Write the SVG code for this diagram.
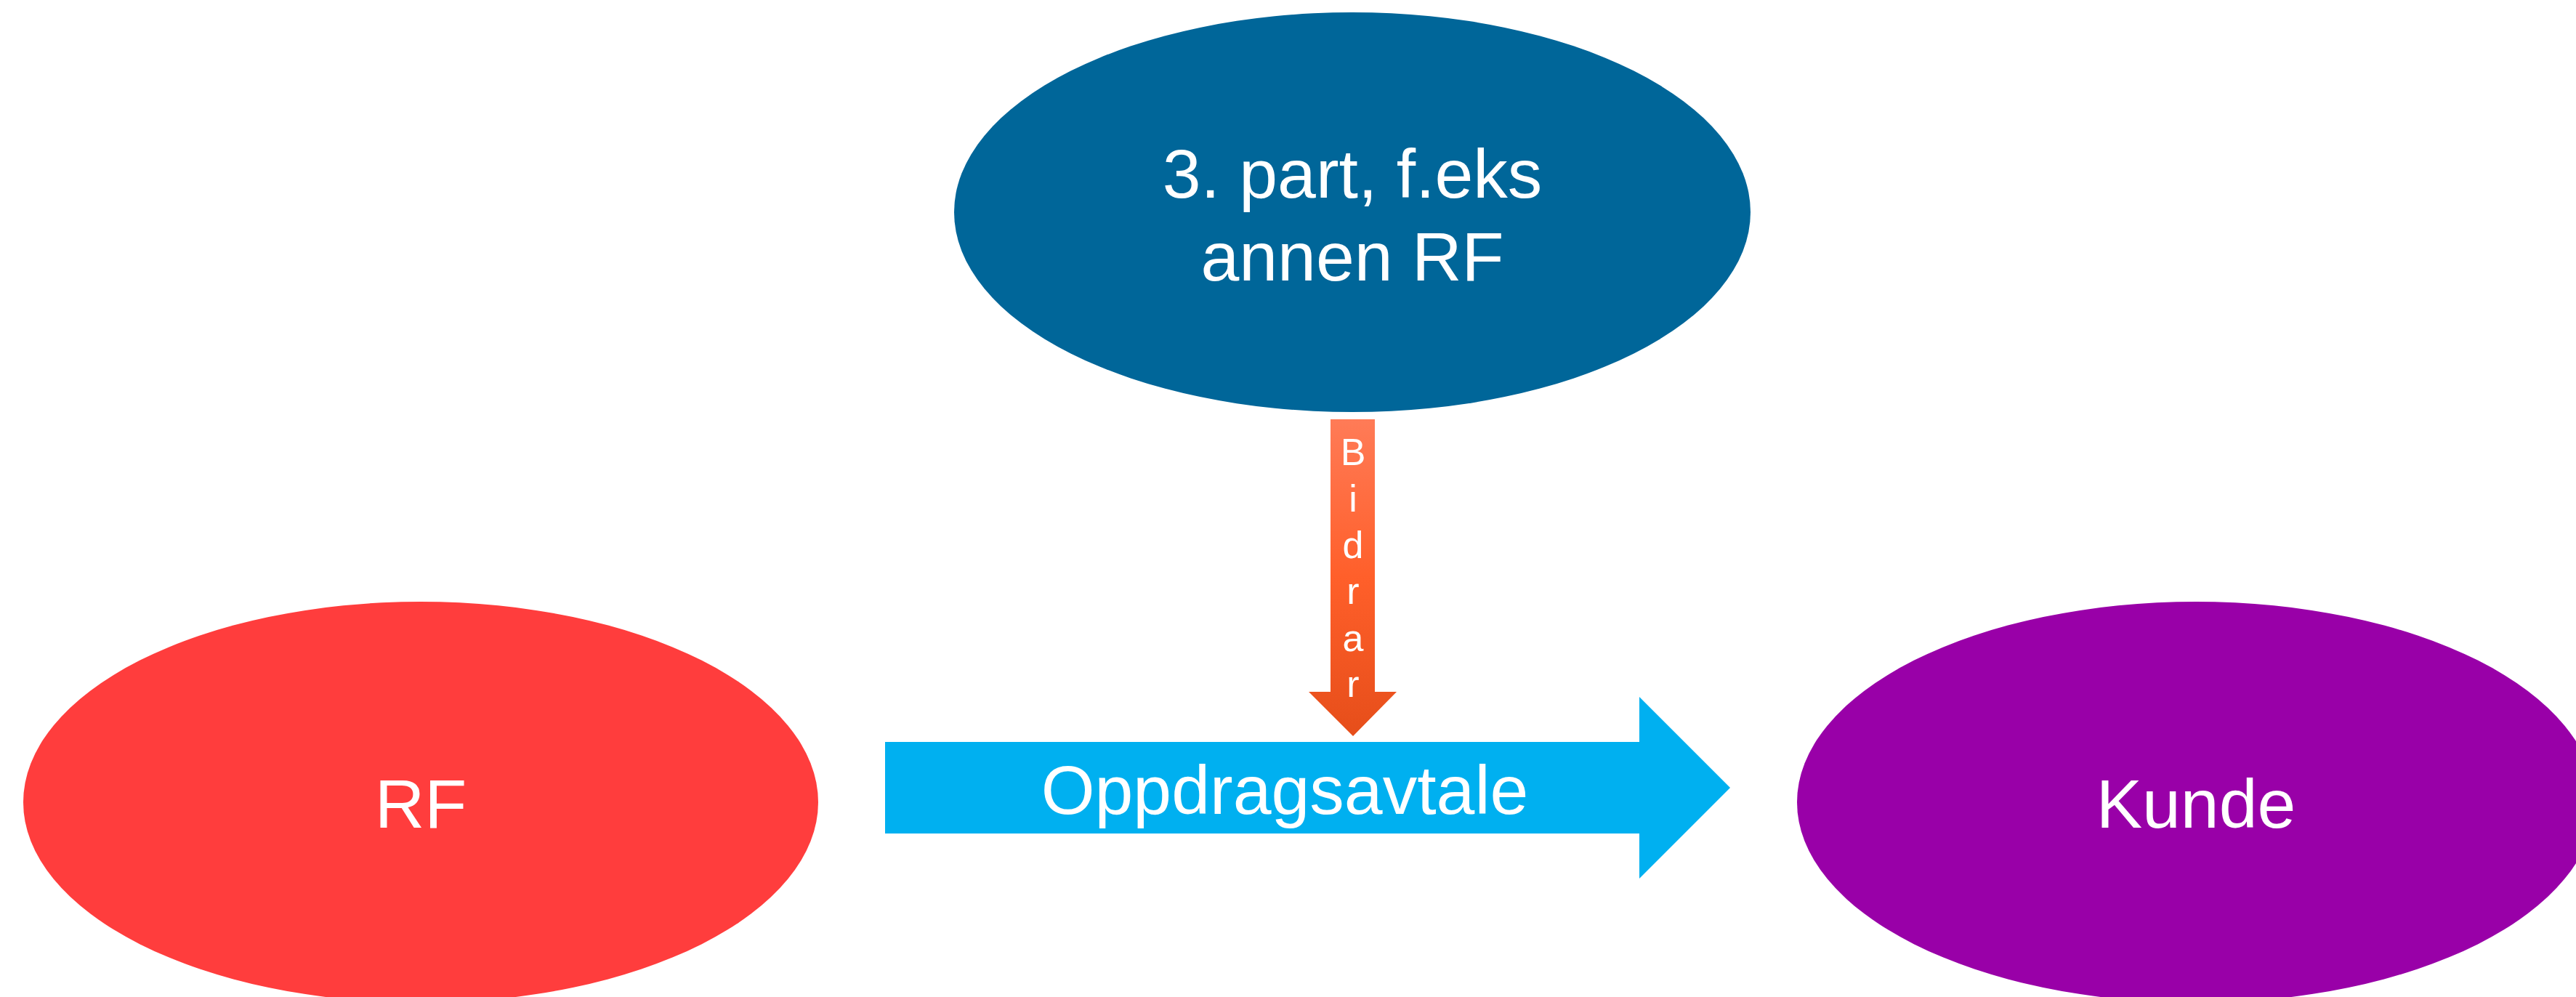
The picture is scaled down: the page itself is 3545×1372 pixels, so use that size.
<svg xmlns="http://www.w3.org/2000/svg" width="3545" height="1372" viewBox="0 0 3545 1372">
<style>
.lbl{font-family:"Liberation Sans",Arial,sans-serif;fill:#FFFFFF;text-anchor:middle}
.big{font-size:95px}
.small{font-size:52px}
</style>
<defs>
<linearGradient id="orange" x1="0" y1="0" x2="0" y2="1">
<stop offset="0" stop-color="#FF7B57"/>
<stop offset="0.5" stop-color="#FF5F2A"/>
<stop offset="1" stop-color="#E64E1A"/>
</linearGradient>
</defs>
<rect width="3545" height="1372" fill="#FFFFFF"/>
<g id="node-tredjepart">
<ellipse cx="1861" cy="292" rx="548" ry="275" fill="#006699"/>
<text class="lbl big" x="1861" y="272">3. part, f.eks</text>
<text class="lbl big" x="1861" y="386">annen RF</text>
</g>
<g id="node-rf">
<ellipse cx="579" cy="1104" rx="547" ry="276" fill="#FF3D3D"/>
<text class="lbl big" x="579" y="1139">RF</text>
</g>
<g id="node-kunde">
<ellipse cx="3022" cy="1104" rx="549" ry="276" fill="#9900A8"/>
<text class="lbl big" x="3022" y="1139">Kunde</text>
</g>
<g id="connectors">
<g id="arrow-oppdragsavtale">
<polygon points="1218,1021 2256,1021 2256,959 2381,1084 2256,1209 2256,1147 1218,1147" fill="#00B0F0"/>
<text class="lbl big" x="1768" y="1120">Oppdragsavtale</text>
</g>
<g id="arrow-bidrar">
<polygon points="1831,577 1892,577 1892,952 1922,952 1862,1013 1801,952 1831,952" fill="url(#orange)"/>
<text class="lbl small" x="1862" y="640">B</text>
<text class="lbl small" x="1862" y="704">i</text>
<text class="lbl small" x="1862" y="768">d</text>
<text class="lbl small" x="1862" y="831">r</text>
<text class="lbl small" x="1862" y="896">a</text>
<text class="lbl small" x="1862" y="959">r</text>
</g>
</g>
</svg>
